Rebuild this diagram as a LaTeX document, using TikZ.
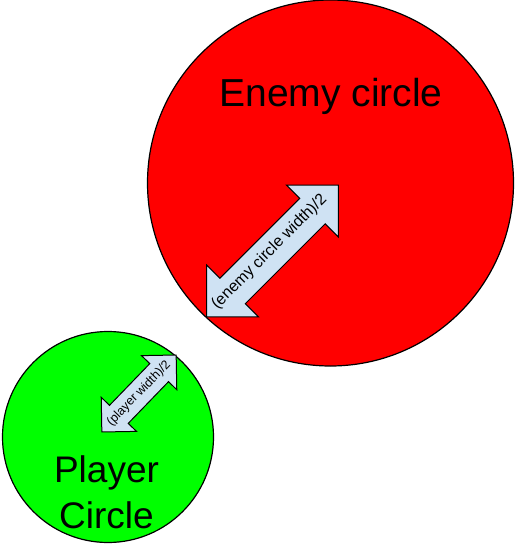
\documentclass[tikz,border=0pt]{standalone}
\usepackage{fontspec}
\setmainfont{Liberation Sans}
\usetikzlibrary{shapes.arrows}
\definecolor{enemyred}{HTML}{FF0000}
\definecolor{playergreen}{HTML}{00FF00}
\definecolor{radiusblue}{HTML}{CFE2F3}

\begin{document}
\begin{tikzpicture}[x=1pt,y=-1pt]
	\useasboundingbox (0,0) rectangle (517,548);

	\begin{scope}[every node/.style={circle,draw=black,line width=1.2pt,inner sep=0pt}]
		\node[fill=enemyred,minimum size=366pt] (enemy) at (330.5,183) {};
		\node[fill=playergreen,minimum size=211pt] (player) at (108,437) {};
	\end{scope}

	\begin{scope}[every node/.style={align=center,anchor=base}]
		\node[font=\fontsize{39}{46}\selectfont] (enemylabel) at (331,107) {Enemy circle};
		\node[font=\fontsize{37}{46}\selectfont] (playerlabel) at (106.5,528) {Player\\Circle};
	\end{scope}

	\begin{scope}[every node/.style={double arrow,draw=black,fill=radiusblue,line width=1pt,
				  double arrow tip angle=90,inner sep=0pt,rotate=45}]
		\node[minimum height=186pt,double arrow head extend=18.5pt,inner ysep=17.5pt]
			(enemyradius) at (272.5,251) {};
		\node[minimum height=107pt,double arrow head extend=11.5pt,inner ysep=12.5pt,rotate=1]
			(playerradius) at (139,393.5) {};
	\end{scope}

	\begin{scope}[every node/.style={inner sep=0pt,rotate=45}]
		\node[font=\fontsize{16}{16}\selectfont] (enemyradiustext)
			at ([shift={(-3,1)}]enemyradius.center) {(enemy circle width)/2};
		\node[font=\fontsize{12.5}{12.5}\selectfont,rotate=1] (playerradiustext)
			at (playerradius.center) {(player width)/2};
	\end{scope}
\end{tikzpicture}
\end{document}
